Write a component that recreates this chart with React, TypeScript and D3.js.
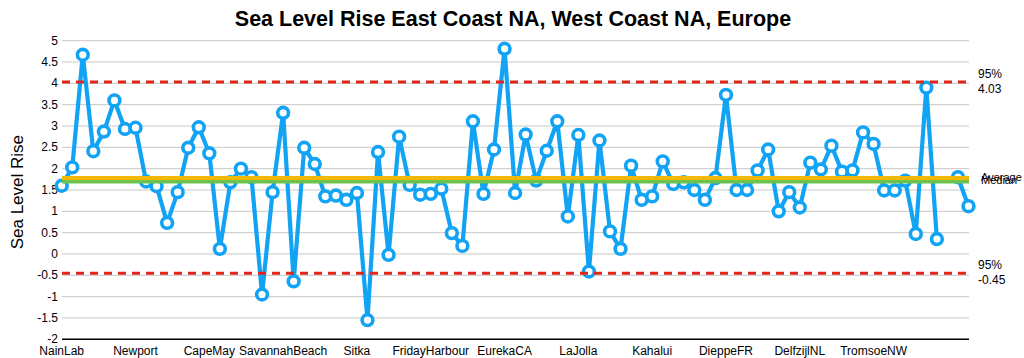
import React from "react";
import * as d3 from "d3";

const values: (number | null)[] = [
  1.60, 2.03, 4.67, 2.41, 2.87, 3.60, 2.93, 2.96, 1.70, 1.59,
  0.73, 1.45, 2.49, 2.97, 2.36, 0.12, 1.68, 2.00, 1.80, -0.95,
  1.45, 3.31, -0.64, 2.49, 2.11, 1.35, 1.37, 1.27, 1.43, -1.55,
  2.39, -0.02, 2.75, 1.62, 1.39, 1.41, 1.53, 0.49, 0.19, 3.11,
  1.41, 2.45, 4.81, 1.43, 2.80, 1.72, 2.42, 3.11, 0.88, 2.79,
  -0.41, 2.66, 0.53, 0.12, 2.07, 1.27, 1.35, 2.17, 1.64, 1.68,
  1.50, 1.27, 1.78, 3.73, 1.50, 1.50, 1.96, 2.45, 1.00, 1.45,
  1.09, 2.14, 1.98, 2.54, 1.93, 1.96, 2.85, 2.58, 1.49, 1.49,
  1.72, 0.47, 3.90, 0.35, null, 1.80, 1.12,
];

const tickLabels = [
  "NainLab", "Newport", "CapeMay", "SavannahBeach", "Sitka", "FridayHarbour",
  "EurekaCA", "LaJolla", "Kahalui", "DieppeFR", "DelfzijlNL", "TromsoeNW",
];
const labelEvery = 7;

const yTicks = [-2, -1.5, -1, -0.5, 0, 0.5, 1, 1.5, 2, 2.5, 3, 3.5, 4, 4.5, 5];

const upper95 = 4.03;
const lower95 = -0.45;
const average = 1.78;
const median = 1.70;

const W = 1024;
const H = 358;
const FONT = "Helvetica, 'Liberation Sans', Arial, sans-serif";

export default function App() {
  const idx = values.map((_, i) => i);
  const x = d3.scalePoint<number>().domain(idx).range([61.7, 968.5]);
  const y = d3.scaleLinear().domain([-2, 5]).range([339.3, 40.7]);
  const x0 = 62;
  const x1 = 969;

  const line = d3
    .line<number | null>()
    .defined((d) => d != null)
    .x((_, i) => x(i) as number)
    .y((d) => y(d as number));

  return (
    <svg
      width={W}
      height={H}
      style={{ position: "absolute", left: 0, top: 0, background: "#fff" }}
      fontFamily={FONT}
    >
      <rect width={W} height={H} fill="#fff" />
      <text x={513} y={26} textAnchor="middle" fontSize={21.5} fontWeight="bold" fill="#000">
        Sea Level Rise East Coast NA, West Coast NA, Europe
      </text>
      <text
        transform={`translate(23,${y(1.45)}) rotate(-90)`}
        textAnchor="middle"
        fontSize={17}
        fill="#000"
      >
        Sea Level Rise
      </text>
      {yTicks.map((t) => (
        <g key={t}>
          {t !== -2 && (
            <line x1={x0} x2={x1} y1={y(t)} y2={y(t)} stroke="#c8c8c8" strokeWidth={1} />
          )}
          <text x={58} y={y(t) + 4} textAnchor="end" fontSize={12} fill="#000">
            {t}
          </text>
        </g>
      ))}
      <line x1={x0} x2={x1} y1={y(-2)} y2={y(-2)} stroke="#000" strokeWidth={1.5} />
      {tickLabels.map((lab, k) => (
        <text
          key={lab}
          x={x(k * labelEvery) as number}
          y={355}
          textAnchor="middle"
          fontSize={12}
          fill="#000"
        >
          {lab}
        </text>
      ))}
      <path d={line(values) || ""} fill="none" stroke="#12A3F4" strokeWidth={4.2} strokeLinejoin="round" />
      {values.map((v, i) =>
        v == null ? null : (
          <circle key={i} cx={x(i) as number} cy={y(v)} r={5.4} fill="#fff" stroke="#12A3F4" strokeWidth={3.6} />
        )
      )}
      {[upper95, lower95].map((v) => (
        <line
          key={v}
          x1={x0}
          x2={x1}
          y1={y(v)}
          y2={y(v)}
          stroke="#E3261B"
          strokeWidth={3}
          strokeDasharray="8,6"
        />
      ))}
      <line x1={x0} x2={x1} y1={y(median)} y2={y(median)} stroke="#6CC24A" strokeWidth={4} />
      <line x1={x0} x2={x1} y1={y(average)} y2={y(average)} stroke="#F2B807" strokeWidth={4} />
      <text x={978} y={y(upper95) - 4} fontSize={12} fill="#000">95%</text>
      <text x={978} y={y(upper95) + 11} fontSize={12} fill="#000">{upper95.toFixed(2)}</text>
      <text x={978} y={y(lower95) - 4} fontSize={12} fill="#000">95%</text>
      <text x={978} y={y(lower95) + 11} fontSize={12} fill="#000">{lower95.toFixed(2)}</text>
      <text x={981} y={y(average) + 3} fontSize={11} fill="#000">Average</text>
      <text x={981} y={y(median) + 3} fontSize={11} fill="#000">Median</text>
    </svg>
  );
}
